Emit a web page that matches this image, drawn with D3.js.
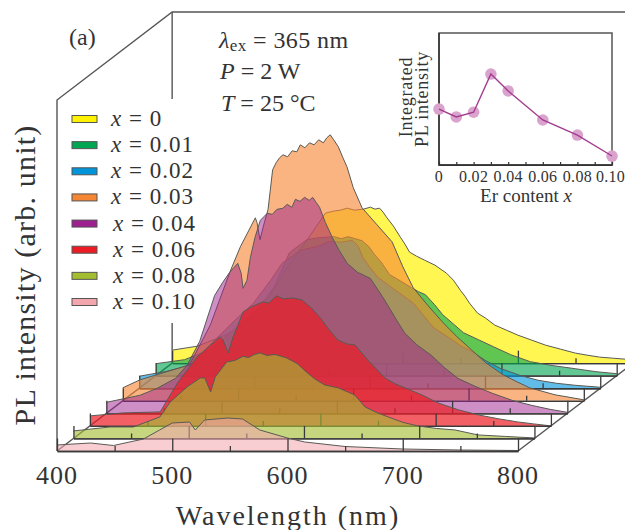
<!DOCTYPE html>
<html><head><meta charset="utf-8">
<script src="https://cdn.jsdelivr.net/npm/d3@7"></script>
<style>
html,body{margin:0;padding:0;background:#fff;overflow:hidden}
text{font-family:"Liberation Serif","Times New Roman",serif;fill:#333}
</style></head><body><div id="chart"></div>
<script>
// ---- data ----
const seriesLabels = ["x = 0","x = 0.01","x = 0.02","x = 0.03","x = 0.04","x = 0.06","x = 0.08","x = 0.10"];
const xTickValues = [400,500,600,700,800];
const xMinorValues = [450,550,650,750];

const wl0 = [400,422,446,468,485,500,517,533,540,546,552,558,566,572,576,580,583,586,592,598,602,606,612,619,628,638,644,650,654,658,665,672,680,690,700,712,724,737,750,760,771,782,793,800];
const pl0 = [13,17,28,43,68,96,123,150,152,153,155,153,154,156,154,155,151,146,137,126,119,111,107,103,98,90,83,73,67,60,50,45,38,33,28,23,18,14,10,8,6,5,4,2];
const wl1 = [400,425,447,473,490,503,516,531,542,555,561,567,573,579,585,590,596,603,612,622,628,634,642,649,658,667,680,693,708,725,745,764,782,800];
const pl1 = [12,16,26,51,69,89,123,136,138,139,137,139,137,135,129,121,113,101,95,88,84,81,71,61,52,43,36,29,21,14,10,7,4,2];
const wl2 = [400,424,444,461,483,499,514,524,540,555,565,575,585,590,594,600,607,620,638,655,668,681,687,700,713,730,746,762,778,800];
const pl2 = [12,17,23,43,68,85,108,125,138,142,147,146,148,142,131,121,111,100,85,61,51,41,38,28,20,13,8,5,3,1];
const wl3 = [400,415,435,458,476,493,502,515,516.5,519,523,526,530,533,536,539,543,547,551,554,558,562,566,570,574,577,580,583,587,591,594.5,600,607.6,620.6,633.6,643,652,665,678,690,701.6,715,730,742,753,775,800];
const pl3 = [13,21,28,36,76,129,154,183,178,161,179,191,231,238,243,246,244,250,249,256,253,258,256,261,258,263,266,261,254,243,234,213,193,176,159,134,113,95,78,64,52,38,26,19,13,6,1];
const wl4 = [400,429,444,460,470,481,494,501,507,514,517,518.6,522,525,529,533.6,537,539.5,544,548,553,557,561,564,568,572,576,579,582,585,590,596,602,609,618,629,640,652,659,670,682,693,705,720,735,752,769,785,800];
const pl4 = [11,18,25,35,48,72,118,131,141,150,140,125,133,156,176,193,197,200,199,204,205,209,206,214,212,216,213,216,211,206,191,176,163,150,141,135,116,93,80,68,58,46,35,27,20,13,8,4,1];
const wl5 = [400,429,461,476,493,513,515.5,520,524,533,540,550,555,562,568,576,584,592,600,607,615,623,630,641,656,665,673.5,688,702,720,737,755,771,785,800];
const pl5 = [10,13,14,43,69,89,86,73,88,114,119,124,123,130,127,128,126,118,108,97,86,82,81,66,48,42,38,31,23,16,11,7,4,2,0];
const wl6 = [400,432,452,475,484,498.5,510,514,519,523,533,540,547,552,557,562,568,575,585,594,603,610,618,630,644,653,663,673,686,699,715,731,751,775,800];
const pl6 = [7.5,11.5,11.5,21.5,36.5,51.5,60.5,60.5,46.5,61.5,76.5,78,82,81,84,85.5,83,84,80.5,75,65.5,59,53.5,50.5,43.5,31.5,26,21.5,16,12.5,10,8.5,3.5,2,0.5];
const wl7 = [400,429,449,475,489,500,515,520,528,548,561,576,600,615,650,700,750,800];
const pl7 = [6,8,5.5,12,21,28,29,21,31,33,32,21,13,9,4.5,2,1,0.5];

const wavelengths = [wl0,wl1,wl2,wl3,wl4,wl5,wl6,wl7];
const intensities = [pl0,pl1,pl2,pl3,pl4,pl5,pl6,pl7];
const fillColors = ["#FFF200","#00A651","#0095DA","#F58634","#9E1F8E","#ED1C24","#A2BD30","#F4A6AE"];
const fillOpacities = [0.68,0.62,0.62,0.62,0.5,0.7,0.62,0.55];

const insetX = [0,0.01,0.02,0.03,0.04,0.06,0.08,0.10];
const insetY = [0.424,0.364,0.40,0.689,0.561,0.341,0.227,0.068];
const insetTicks = [0,0.02,0.04,0.06,0.08,0.10];
const insetMinor = [0.01,0.03,0.05,0.07,0.09];

// ---- drawing ----
const W=625,H=530;
const svg=d3.select("#chart").append("svg").attr("width",W).attr("height",H).style("display","block");
const line="#555";

const x=d3.scaleLinear().domain([400,800]).range([57,518]);
const y=d3.scaleLinear().domain([0,300]).range([451,151]);
const n=seriesLabels.length, stepX=16.45, stepY=12.55;
const depth=i=>n-1-i;
const backX=stepX*(n-1), backY=stepY*(n-1);

// walls and floor edges
const frame=svg.append("g").attr("fill","none").attr("stroke",line).attr("stroke-width",1.4);
const topY=12, wallTop=100;
frame.append("path").attr("d",`M${x(400)},${y(0)}V${wallTop}L${x(400)+backX},${topY}H${W+2}`);
frame.append("path").attr("d",`M${x(400)+backX},${topY}V99`);
frame.append("path").attr("d",`M${x(400)+backX},323V${y(0)-backY}`);
frame.append("path").attr("d",`M${x(400)},${y(0)}L${x(400)+backX},${y(0)-backY}`);
frame.append("path").attr("d",`M${x(800)},${y(0)}L${x(800)+backX},${y(0)-backY}`);

const minorAxis=d3.axisBottom(x).tickValues(xMinorValues).tickSizeInner(-5).tickSizeOuter(0).tickFormat("");
const majorAxis=d3.axisBottom(x).tickValues(xTickValues).tickSizeInner(-12.5).tickSizeOuter(0).tickFormat("");

seriesLabels.forEach((lab,i)=>{
  const k=depth(i);
  const g=svg.append("g").attr("transform",`translate(${k*stepX},${-k*stepY})`);
  const pts=wavelengths[i].map((w,j)=>[w,intensities[i][j]]);
  const area=d3.area().x(d=>x(d[0])).y0(y(0)).y1(d=>y(d[1]));
  const ln=d3.line().x(d=>x(d[0])).y(d=>y(d[1]));
  g.append("path").attr("d",area(pts)).attr("fill",fillColors[i]).attr("fill-opacity",fillOpacities[i]);
  g.append("path").attr("d",ln(pts)).attr("fill","none").attr("stroke","#5a5a55").attr("stroke-width",1);
  [minorAxis,majorAxis].forEach(a=>{
    const ax=g.append("g").attr("transform",`translate(0,${y(0)})`).call(a);
    ax.selectAll("path,line").attr("stroke","#3a3a3a").attr("stroke-width",1.3);
  });
});

// x tick labels and titles
svg.append("g").selectAll("text").data(xTickValues).join("text")
  .attr("x",d=>x(d)).attr("y",484).attr("text-anchor","middle")
  .attr("font-size",26).attr("letter-spacing",1).text(d=>d);
svg.append("text").attr("x",288).attr("y",525).attr("text-anchor","middle")
  .attr("font-size",28).attr("letter-spacing",2).text("Wavelength (nm)");
svg.append("text").attr("transform","translate(35,275) rotate(-90)").attr("text-anchor","middle")
  .attr("font-size",30).attr("letter-spacing",1.2).text("PL intensity (arb. unit)");

// annotations
svg.append("text").attr("x",69).attr("y",45).attr("font-size",24).text("(a)");
const t1=svg.append("text").attr("x",219).attr("y",48).attr("font-size",24).attr("letter-spacing",0.4);
t1.append("tspan").attr("font-style","italic").text("λ");
t1.append("tspan").attr("font-size",17).attr("dy",3).text("ex");
t1.append("tspan").attr("dy",-3).text(" = 365 nm");
const t2=svg.append("text").attr("x",220).attr("y",79).attr("font-size",24);
t2.append("tspan").attr("font-style","italic").text("P");
t2.append("tspan").text(" = 2 W");
const t3=svg.append("text").attr("x",221).attr("y",111).attr("font-size",24);
t3.append("tspan").attr("font-style","italic").text("T");
t3.append("tspan").text(" = 25 °C");

// legend
const legendOrder=[0,1,2,3,4,5,6,7];
const ly=d3.scalePoint().domain(legendOrder).range([119,302]);
const leg=svg.append("g").selectAll("g").data(legendOrder).join("g").attr("transform",d=>`translate(0,${ly(d)})`);
leg.append("rect").attr("x",72).attr("y",-3.5).attr("width",25).attr("height",7)
  .attr("fill",d=>fillColors[d]).attr("stroke","#555").attr("stroke-width",1);
const lt=leg.append("text").attr("x",d=>d>=4?113:111).attr("y",7).attr("font-size",23).attr("letter-spacing",1);
lt.append("tspan").attr("font-style","italic").text("x");
lt.append("tspan").text(d=>seriesLabels[d].slice(1));

// inset
const ix=d3.scaleLinear().domain([0,0.10]).range([439,612]);
const iy=d3.scaleLinear().domain([0,1]).range([165,33]);
const inset=svg.append("g");
inset.append("rect").attr("x",ix(0)).attr("y",iy(1)).attr("width",ix(0.1)-ix(0)).attr("height",iy(0)-iy(1))
  .attr("fill","#fff").attr("stroke",line).attr("stroke-width",1.5);
inset.append("g").attr("transform",`translate(0,${iy(0)})`)
  .call(d3.axisBottom(ix).tickValues(insetTicks.concat(insetMinor)).tickSizeInner(-3).tickSizeOuter(0).tickFormat(""))
  .selectAll("path,line").attr("stroke","#333").attr("stroke-width",1.2);
inset.append("path").attr("d",`M${ix(0)},${iy(1)}V${iy(0)}H${ix(0.1)}`).attr("fill","none").attr("stroke","#333").attr("stroke-width",1.5);
inset.selectAll("circle").data(insetX).join("circle")
  .attr("cx",d=>ix(d)).attr("cy",(d,i)=>iy(insetY[i])).attr("r",5.8).attr("fill","#D9A3CE");
inset.append("path").attr("d",d3.line().x(d=>ix(d)).y((d,i)=>iy(insetY[i]))(insetX))
  .attr("fill","none").attr("stroke","#A33C8E").attr("stroke-width",1.4);
inset.append("g").selectAll("text").data(insetTicks).join("text")
  .attr("x",d=>ix(d)-(d===0.10?1.5:0)).attr("y",182).attr("text-anchor","middle").attr("font-size",16).attr("letter-spacing",0.3)
  .text(d=>d===0?"0":d.toFixed(2));
const ilab=inset.append("text").attr("x",526).attr("y",202).attr("text-anchor","middle").attr("font-size",19);
ilab.append("tspan").text("Er content ");
ilab.append("tspan").attr("font-style","italic").text("x");
inset.append("text").attr("transform","translate(412,97) rotate(-90)").attr("text-anchor","middle").attr("font-size",18).attr("letter-spacing",0.75).text("Integrated");
inset.append("text").attr("transform","translate(428,99) rotate(-90)").attr("text-anchor","middle").attr("font-size",18).attr("letter-spacing",0.75).text("PL intensity");
</script></body></html>
